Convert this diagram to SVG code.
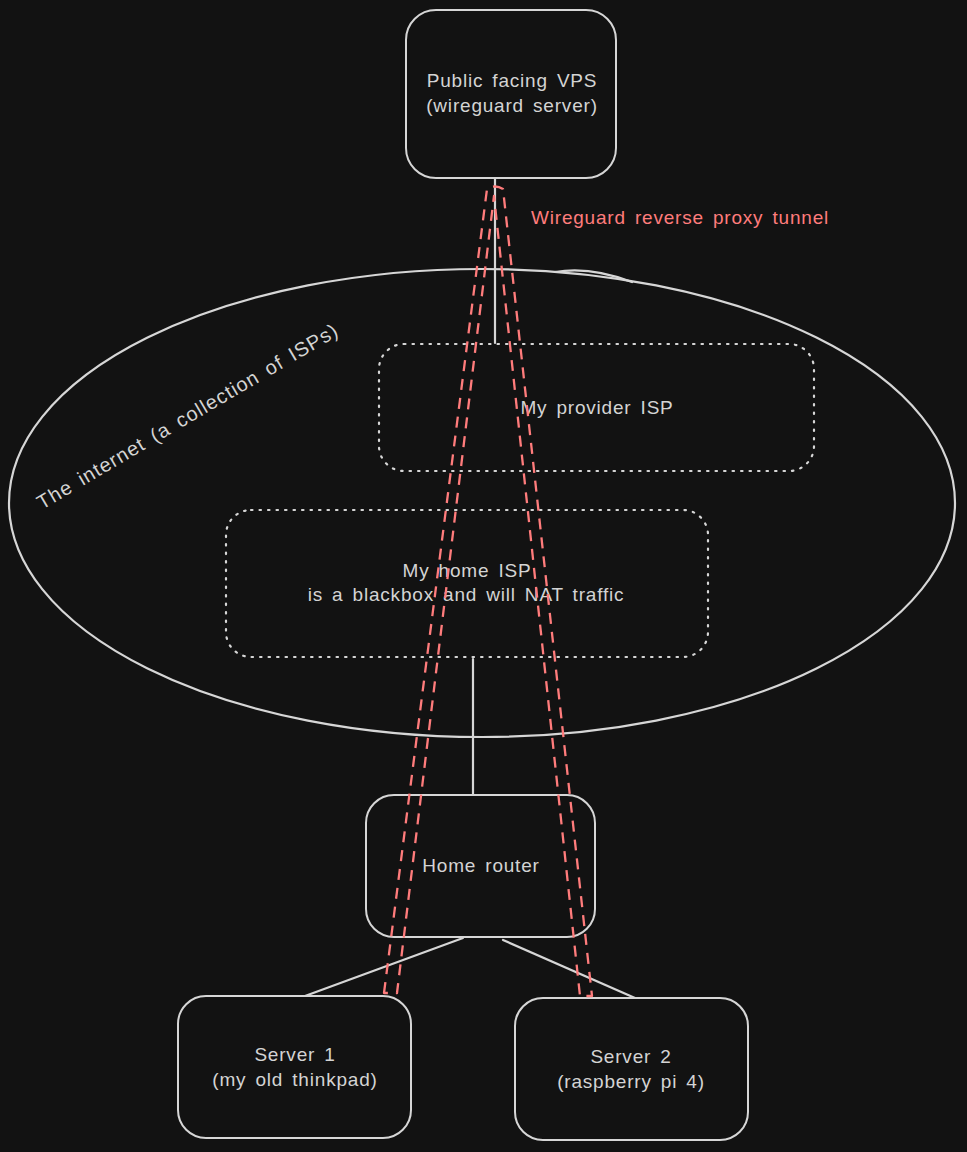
<svg xmlns="http://www.w3.org/2000/svg" width="967" height="1152" viewBox="0 0 967 1152">
<style>
.bg{fill:#121212}
.box{fill:#121212;stroke:#d6d6d6;stroke-width:2}
.dot{fill:none;stroke:#d6d6d6;stroke-width:2.2;stroke-dasharray:1.5 7;stroke-linecap:round}
.ln{fill:none;stroke:#d6d6d6;stroke-width:2.2;stroke-linecap:round}
.red{fill:none;stroke:#ff7c7c;stroke-width:2.3;stroke-dasharray:11 8;stroke-linejoin:round}
.t{font-family:"Liberation Sans",Arial,sans-serif;font-size:19px;letter-spacing:0.8px;word-spacing:3px;fill:#d4d4d4;text-anchor:middle}
.tr{font-family:"Liberation Sans",Arial,sans-serif;font-size:19px;letter-spacing:0.8px;word-spacing:3px;fill:#ff7c7c}
</style>
<rect class="bg" x="0" y="0" width="967" height="1152"/>
<g id="internet">
<ellipse class="ln" cx="482" cy="503" rx="473" ry="234"/>
<path class="ln" d="M555 272 Q590 266 632 282" stroke-width="1.5"/>
<text class="t" transform="translate(188 417) rotate(-30.5)" x="0" y="6" style="font-size:20px;letter-spacing:1px">The internet (a collection of ISPs)</text>
</g>
<g id="connectors">
<line class="ln" x1="495" y1="178" x2="495" y2="343"/>
<line class="ln" x1="473" y1="659" x2="473" y2="794"/>
<line class="ln" x1="463" y1="938" x2="305" y2="996"/>
<line class="ln" x1="503" y1="940" x2="635" y2="998"/>
</g>
<g id="vps">
<rect class="box" x="406" y="10" width="210" height="168" rx="30"/>
<text class="t" x="512" y="87">Public facing VPS</text>
<text class="t" x="512" y="112">(wireguard server)</text>
</g>
<g id="provider-isp">
<rect class="dot" x="379" y="344" width="435" height="127" rx="25"/>
<text class="t" x="597" y="414">My provider ISP</text>
</g>
<g id="home-isp">
<rect class="dot" x="226" y="510" width="482" height="147" rx="25"/>
<text class="t" x="467" y="577">My home ISP</text>
<text class="t" x="466" y="601">is a blackbox and will NAT traffic</text>
</g>
<g id="home-router">
<rect class="box" x="366" y="795" width="229" height="142" rx="28"/>
<text class="t" x="481" y="872">Home router</text>
</g>
<g id="server1">
<rect class="box" x="178" y="996" width="233" height="142" rx="28"/>
<text class="t" x="295" y="1061">Server 1</text>
<text class="t" x="295" y="1086">(my old thinkpad)</text>
</g>
<g id="server2">
<rect class="box" x="515" y="998" width="233" height="142" rx="28"/>
<text class="t" x="631" y="1063">Server 2</text>
<text class="t" x="631" y="1088">(raspberry pi 4)</text>
</g>
<g id="tunnel">
<path class="red" d="M384 993 L487 189 Q495 184 503 189 L592 996 L580 996 L494 196 L397 993 Z"/>
<text class="tr" x="531" y="224">Wireguard reverse proxy tunnel</text>
</g>
</svg>
